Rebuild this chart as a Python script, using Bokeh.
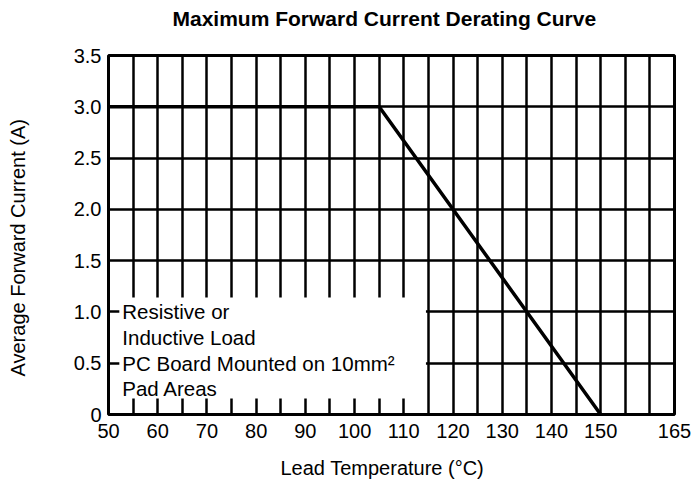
from bokeh.plotting import figure
from bokeh.models import FixedTicker, BoxAnnotation, Range1d, Title, LinearAxis
from bokeh.core.properties import value
from bokeh.embed import file_html
from bokeh.resources import INLINE

# ---- data ----
lead_temp = [50, 105, 150]
avg_current = [3.0, 3.0, 0.0]

x_ticks = [50, 60, 70, 80, 90, 100, 110, 120, 130, 140, 150, 165]
x_tick_labels = ["50", "60", "70", "80", "90", "100", "110", "120", "130", "140", "150", "165"]
y_ticks = [0, 0.5, 1.0, 1.5, 2.0, 2.5, 3.0, 3.5]
y_tick_labels = ["0", "0.5", "1.0", "1.5", "2.0", "2.5", "3.0", "3.5"]
x_grid = [55, 60, 65, 70, 75, 80, 85, 90, 95, 100, 105, 110, 115, 120, 125, 130,
          135, 140, 145, 150, 155, 160]
y_grid = [0.5, 1.0, 1.5, 2.0, 2.5, 3.0]

note_lines = ["Resistive or", "Inductive Load", "PC Board Mounted on 10mm\u00b2", "Pad Areas"]
note_y = [1.0, 0.75, 0.5, 0.25]

title_text = "Maximum Forward Current Derating Curve"
x_label = "Lead Temperature (\u00b0C)"
y_label = "Average Forward Current (A)"

FONT = "Liberation Sans"


def spacer(k, at):
    # an axis with one invisible tick, used only to reserve k pixels in a side panel
    return LinearAxis(ticker=FixedTicker(ticks=[at], minor_ticks=[]), major_tick_out=k,
                      major_tick_in=0, minor_tick_out=0, minor_tick_in=0,
                      major_tick_line_color="white", major_tick_line_alpha=0.01,
                      major_tick_line_width=1,
                      minor_tick_line_color=None, axis_line_color=None,
                      major_label_standoff=0, major_label_overrides={at: ""},
                      major_label_text_font_size="1px")


p = figure(width=694, height=486, x_range=Range1d(50, 165), y_range=Range1d(0, 3.5),
           output_backend="svg", toolbar_location=None, title=None,
           min_border_left=108, min_border_right=20, min_border_top=55, min_border_bottom=72)
p.background_fill_color = "white"
p.border_fill_color = "white"
p.outline_line_color = "black"
p.outline_line_width = 3

# grid
p.xgrid.ticker = FixedTicker(ticks=x_grid)
p.ygrid.ticker = FixedTicker(ticks=y_grid)
for g in (p.xgrid, p.ygrid):
    g.grid_line_color = "black"
    g.grid_line_width = 2.5
    g.grid_line_alpha = 1.0

# axes
p.xaxis.ticker = FixedTicker(ticks=x_ticks)
p.xaxis.major_label_overrides = dict(zip(x_ticks, x_tick_labels))
p.yaxis.ticker = FixedTicker(ticks=y_ticks)
p.yaxis.major_label_overrides = dict(zip(y_ticks, y_tick_labels))
for ax in (p.xaxis, p.yaxis):
    ax.axis_line_color = None
    ax.major_tick_line_color = None
    ax.minor_tick_line_color = None
    ax.major_tick_out = 0
    ax.major_tick_in = 0
    ax.major_label_text_font = FONT
    ax.major_label_text_font_size = "20px"
    ax.major_label_text_color = "black"
p.xaxis.major_label_standoff = 9
p.yaxis.major_label_standoff = 7

# title (spacer next to frame, then title)
p.add_layout(spacer(26, 165), "above")
p.add_layout(Title(text=title_text, align="left", offset=64, text_font=FONT,
                   text_font_size="21px", text_font_style="bold", text_color="black",
                   standoff=0, vertical_align="bottom"), "above")

# x label
p.add_layout(spacer(16, 165), "below")
p.add_layout(Title(text=x_label, align="left", offset=172, text_font=FONT,
                   text_font_size="20px", text_font_style="normal", text_color="black",
                   standoff=0, vertical_align="top"), "below")

# y label
p.add_layout(spacer(36, 3.5), "left")
p.add_layout(Title(text=y_label, align="left", offset=38, text_font=FONT,
                   text_font_size="20px", text_font_style="normal", text_color="black",
                   standoff=8, vertical_align="top"), "left")

# white note box covering part of grid
note_box = BoxAnnotation(left=52.2, right=114.5, bottom=0.155, top=1.14,
                         fill_color="white", fill_alpha=1.0, line_color=None,
                         level="underlay")
p.add_layout(note_box)

# derating curve
p.line(lead_temp, avg_current, line_color="black", line_width=3.5)

# note text
p.text(x=[52.8] * len(note_lines), y=note_y, text=note_lines,
       text_font=value(FONT), text_font_size="20.5px", text_color="black",
       text_baseline="middle", text_align="left")

open("out.html", "w").write(file_html(p, INLINE))
